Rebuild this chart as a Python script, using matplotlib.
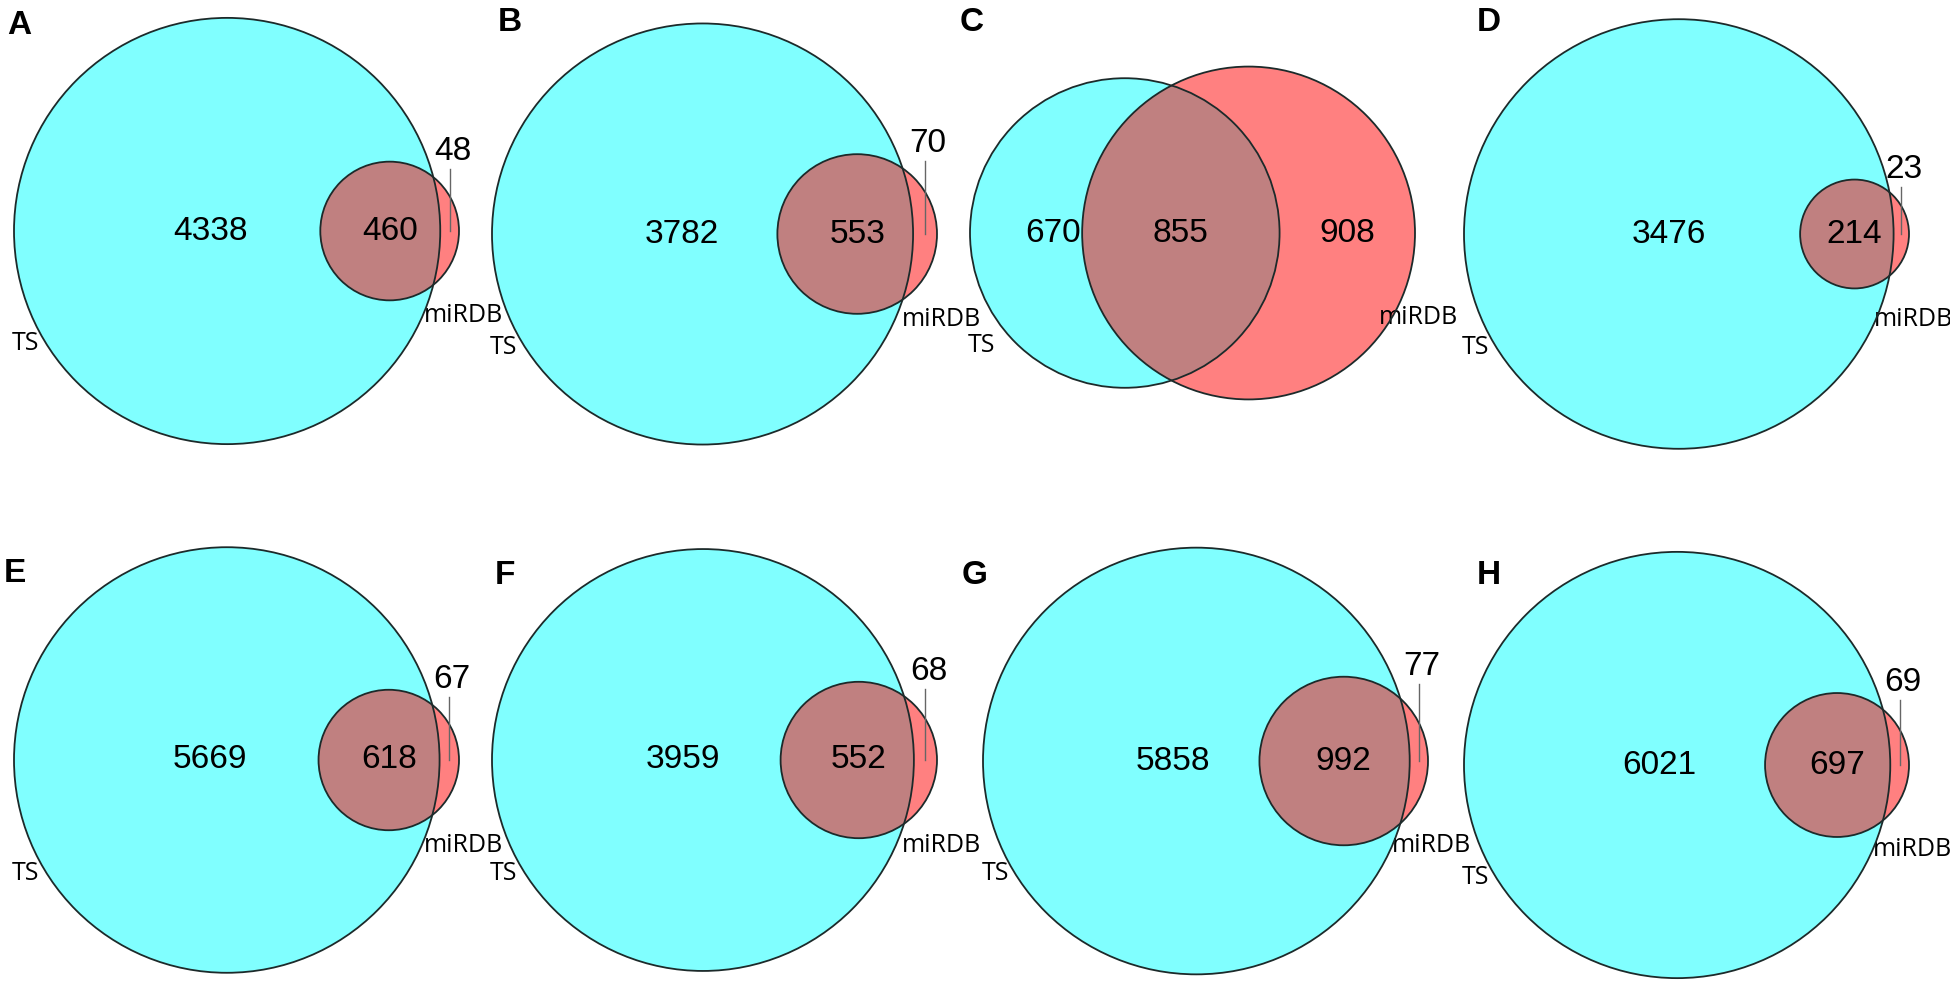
import numpy as np
import matplotlib
matplotlib.use('Agg')
import matplotlib.pyplot as plt
from matplotlib.patches import Circle

# Venn counts per panel: TS only, both, miRDB only
panels = ['A', 'B', 'C', 'D', 'E', 'F', 'G', 'H']
ts_only = [4338, 3782, 670, 3476, 5669, 3959, 5858, 6021]
both = [460, 553, 855, 214, 618, 552, 992, 697]
mirdb_only = [48, 70, 908, 23, 67, 68, 77, 69]
set_names = ['TS', 'miRDB']

# layout (pixels): left edge of each diagram, vertical centre, panel letter spot
x_left = [14, 492, 970, 1464, 14, 492, 983, 1464]
y_mid = [231, 234, 233, 234, 760, 760, 761, 765]
letter_xy = [(17, 25), (508, 22), (970, 22), (1487, 22),
             (14, 573), (505, 575), (972, 575), (1487, 575)]
diagram_width = 445

CYAN = '#80FFFF'
RED = '#FF8080'
MIX = '#C08080'
EDGE = '#1c2a2a'


def lens_area(r1, r2, d):
    if d >= r1 + r2:
        return 0.0
    if d <= abs(r1 - r2):
        return np.pi * min(r1, r2) ** 2
    a1 = r1 ** 2 * np.arccos((d ** 2 + r1 ** 2 - r2 ** 2) / (2 * d * r1))
    a2 = r2 ** 2 * np.arccos((d ** 2 + r2 ** 2 - r1 ** 2) / (2 * d * r2))
    k = 0.5 * np.sqrt((-d + r1 + r2) * (d + r1 - r2) * (d - r1 + r2) * (d + r1 + r2))
    return a1 + a2 - k


def solve_distance(r1, r2, target):
    lo, hi = abs(r1 - r2), r1 + r2
    for _ in range(80):
        mid = (lo + hi) / 2
        if lens_area(r1, r2, mid) > target:
            lo = mid
        else:
            hi = mid
    return (lo + hi) / 2


fig = plt.figure(figsize=(19.5, 10.02), dpi=100)
ax = fig.add_axes([0, 0, 1, 1])
ax.set_xlim(0, 1950)
ax.set_ylim(1002, 0)
ax.axis('off')

num_font = dict(family=['Liberation Sans', 'DejaVu Sans'], fontsize=24, color='black')
cat_font = dict(family=['Open Sans', 'DejaVu Sans'], fontsize=18, color='black')

for i, p in enumerate(panels):
    n1 = ts_only[i] + both[i]
    n2 = mirdb_only[i] + both[i]
    r1 = np.sqrt(n1 / np.pi)
    r2 = np.sqrt(n2 / np.pi)
    d = solve_distance(r1, r2, both[i])
    s = diagram_width / (r1 + d + r2)
    R1, R2, D = r1 * s, r2 * s, d * s
    cx1 = x_left[i] + R1
    cx2 = cx1 + D
    cy = y_mid[i]

    c1 = Circle((cx1, cy), R1, facecolor=CYAN, edgecolor='none', zorder=1)
    c2 = Circle((cx2, cy), R2, facecolor=RED, edgecolor='none', zorder=2)
    ax.add_patch(c1)
    ax.add_patch(c2)
    mix = Circle((cx2, cy), R2, facecolor=MIX, edgecolor='none', zorder=3)
    ax.add_patch(mix)
    mix.set_clip_path(c1)
    ax.add_patch(Circle((cx1, cy), R1, fill=False, edgecolor=EDGE, lw=1.3, zorder=4))
    ax.add_patch(Circle((cx2, cy), R2, fill=False, edgecolor=EDGE, lw=1.3, zorder=4))

    # label positions
    lens_l, lens_r = cx2 - R2, cx1 + R1
    lens_mid = (lens_l + lens_r) / 2
    lens_a = both[i] * s ** 2
    area1 = np.pi * R1 ** 2
    x_ts = (area1 * cx1 - lens_a * lens_mid) / (area1 - lens_a)
    x_mi = (cx1 + R1 + cx2 + R2) / 2
    nested = mirdb_only[i] < 0.2 * both[i]
    x_both = cx2 if nested else lens_mid

    ax.text(x_ts, cy, f'{ts_only[i]}', ha='center', va='center', zorder=5, **num_font)
    ax.text(x_both, cy, f'{both[i]}', ha='center', va='center', zorder=5, **num_font)
    if nested:
        top = cy - R2 + 7
        ax.plot([x_mi, x_mi], [cy, top], color='#666666', lw=1.0, zorder=5)
        ax.text(x_mi + 3, top - 2, f'{mirdb_only[i]}', ha='center', va='bottom',
                zorder=5, **num_font)
    else:
        ax.text(x_mi, cy, f'{mirdb_only[i]}', ha='center', va='center', zorder=5, **num_font)

    ax.text(x_left[i] + 12, cy + 113, set_names[0], ha='center', va='center', **cat_font)
    ax.text(cx2 + R2 + 4, cy + 85, set_names[1], ha='center', va='center', **cat_font)

    lx, ly = letter_xy[i]
    ax.text(lx - 10, ly, p, ha='left', va='center', fontsize=24, fontweight='bold',
            family=['Liberation Sans', 'DejaVu Sans'])

fig.savefig('out.png', dpi=100)
